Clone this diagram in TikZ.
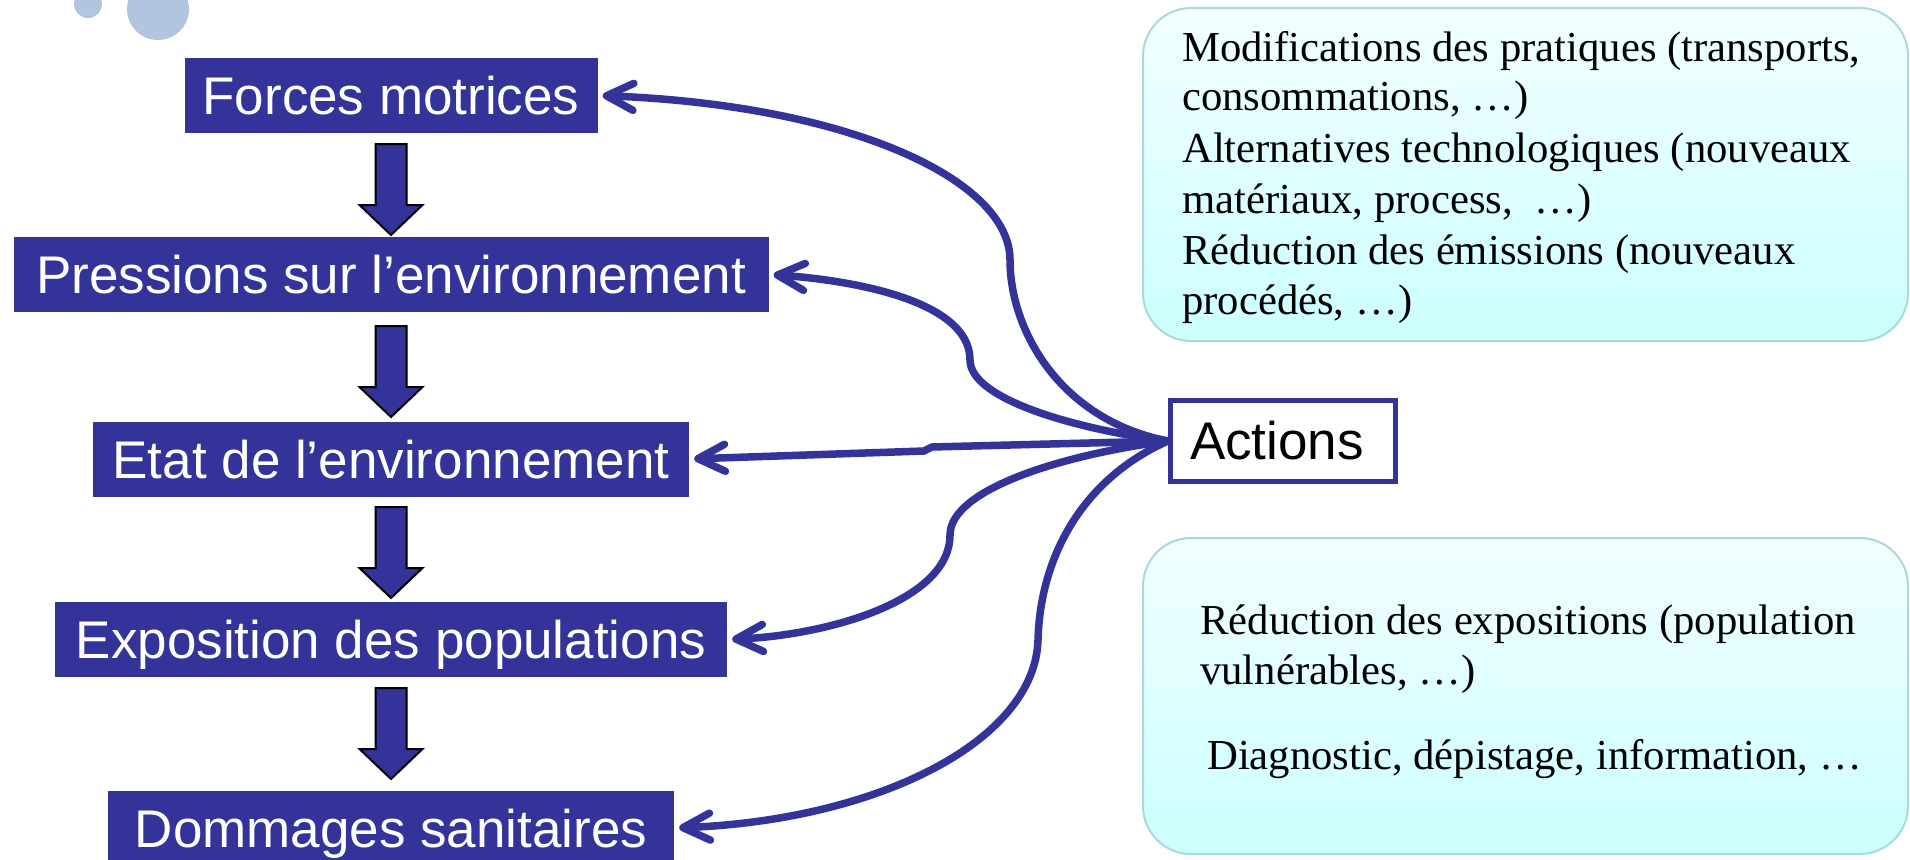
\documentclass[tikz,border=0pt]{standalone}
\usepackage{fontspec}
\newfontfamily\arialf{Liberation Sans}
\newfontfamily\timesf{Liberation Serif}
\usetikzlibrary{arrows.meta,calc}
\definecolor{dblue}{HTML}{333399}
\definecolor{circ}{HTML}{B3C5DE}
\definecolor{tealb}{HTML}{A9D9DD}
\definecolor{cyanlo}{HTML}{CCFFFF}
\definecolor{cyanhi}{HTML}{F2FFFF}
\begin{document}
\begin{tikzpicture}[x=1pt,y=-1pt,
  stagebox/.style={fill=dblue, draw=none, text=white, inner sep=0pt, minimum height=75pt,
    text height=38pt, text depth=0pt, font=\arialf\fontsize{53}{60}\selectfont},
  blockarr/.pic={\draw[fill=dblue, draw=black, line width=2pt, line join=miter]
    (-15.5,0) -- (-15.5,61) -- (-31.5,61) -- (0,91) -- (31.5,61) -- (15.5,61) -- (15.5,0) -- cycle;},
  link/.style={draw=dblue, line width=7.5pt, line cap=round, line join=round,
    -{Straight Barb[length=27pt,width=27pt,line cap=round,line join=round]}, shorten >=5pt},
  infobox/.style={draw=tealb, line width=2pt, rounded corners=48pt, top color=cyanhi,
    bottom color=cyanlo, minimum width=765pt, inner sep=0pt},
  infotext/.style={anchor=base west, inner sep=0pt, font=\timesf\fontsize{42.7}{51}\selectfont}
]
\useasboundingbox (0,0) rectangle (1910,859);
\fill[white] (0,0) rectangle (1910,859);
\clip (0,0) rectangle (1910,859);

% decorative circles
\fill[circ] (88,4) circle[radius=14pt];
\fill[circ] (158,9) circle[radius=31pt];

% stage boxes
\node[stagebox, minimum width=413pt] (b1) at (391,95.5) {Forces motrices};
\node[stagebox, minimum width=755pt] (b2) at (391,274.5) {Pressions sur l’environnement};
\node[stagebox, minimum width=596pt] (b3) at (391,459) {Etat de l’environnement};
\node[stagebox, minimum width=672pt] (b4) at (391,639.5) {Exposition des populations};
\node[stagebox, minimum width=566pt] (b5) at (391,828) {Dommages sanitaires};

% block arrows
\pic at (391,144) {blockarr};
\pic at (391,326) {blockarr};
\pic at (391,507) {blockarr};
\pic at (391,688) {blockarr};

% info boxes
\node[infobox, minimum height=333pt] (top) at (1525.5,174.5) {};
\node[infobox, minimum height=316pt] (bot) at (1525.5,696) {};
\node[infotext] (t1) at (1182,61) {Modifications des pratiques (transports,};
\node[infotext] (t2) at (1182,110) {consommations, …)};
\node[infotext] (t3) at (1182,162) {Alternatives technologiques (nouveaux};
\node[infotext] (t4) at (1182,213) {matériaux, process,\ \ …)};
\node[infotext] (t5) at (1182,264) {Réduction des émissions (nouveaux};
\node[infotext] (t6) at (1182,314) {procédés, …)};
\node[infotext] (u1) at (1200,634) {Réduction des expositions (population};
\node[infotext] (u2) at (1200,684) {vulnérables, …)};
\node[infotext] (u3) at (1207,769) {Diagnostic, dépistage, information, …};

% actions box
\node[draw=dblue, line width=5pt, fill=white, minimum width=225pt, minimum height=81pt,
  inner sep=0pt, text height=37pt, text depth=0pt, font=\arialf\fontsize{53}{60}\selectfont]
  (act) at (1283,441) {\hspace*{-12pt}Actions};

% connectors
\draw[link] (act.west) .. controls (1060,420) and (1010,330) .. (1010,260)
  .. controls (1010,180) and (850,105) .. (b1.east);
\draw[link] (act.west) .. controls (1080,430) and (970,400) .. (970,360)
  .. controls (970,300) and (850,280) .. (b2.east);
\draw[link] (act.west) -- (932,447) -- (924,451) -- (b3.east);
\draw[link] (act.west) .. controls (1060,455) and (950,490) .. (950,535)
  .. controls (950,600) and (830,635) .. (b4.east);
\draw[link] (act.west) .. controls (1080,480) and (1040,560) .. (1038,640)
  .. controls (1035,740) and (880,820) .. (b5.east);
\end{tikzpicture}
\end{document}
